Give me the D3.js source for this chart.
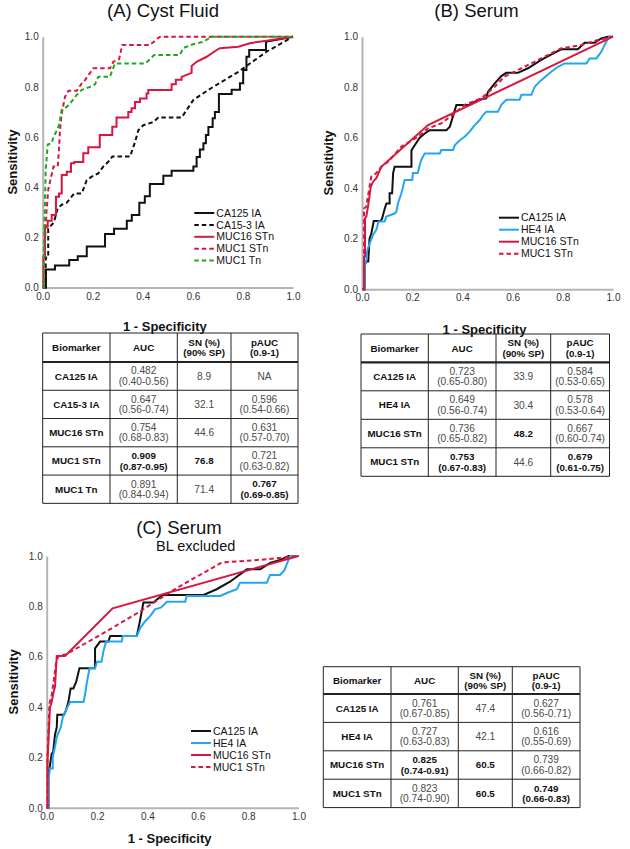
<!DOCTYPE html>
<html><head><meta charset="utf-8">
<script src="https://cdn.jsdelivr.net/npm/d3@7/dist/d3.min.js"></script>
<style>
html,body{margin:0;padding:0;background:#fff;}
svg{display:block;font-family:"Liberation Sans",Arial,sans-serif;}
</style></head>
<body><svg id="c" width="630" height="849"></svg>
<script>
// ---------------- DATA ----------------
const axisTicks = [0, 0.2, 0.4, 0.6, 0.8, 1.0];

// (A) Cyst fluid ROC points [1-specificity, sensitivity]
const cystCA125 = [[0,0],[0.013,0],[0.013,0.072],[0.049,0.072],[0.049,0.088],[0.106,0.088],[0.106,0.11],[0.14,0.11],[0.14,0.125],[0.176,0.125],[0.176,0.163],[0.249,0.163],[0.249,0.213],[0.285,0.213],[0.285,0.234],[0.336,0.234],[0.336,0.266],[0.356,0.266],[0.356,0.289],[0.386,0.289],[0.386,0.338],[0.408,0.338],[0.408,0.364],[0.428,0.364],[0.428,0.413],[0.482,0.413],[0.482,0.446],[0.515,0.446],[0.515,0.466],[0.602,0.466],[0.602,0.482],[0.615,0.482],[0.615,0.52],[0.628,0.52],[0.628,0.55],[0.642,0.55],[0.642,0.575],[0.652,0.575],[0.652,0.608],[0.662,0.608],[0.662,0.64],[0.679,0.64],[0.679,0.675],[0.688,0.675],[0.688,0.70],[0.704,0.70],[0.704,0.772],[0.755,0.772],[0.755,0.788],[0.788,0.788],[0.788,0.814],[0.801,0.814],[0.801,0.867],[0.814,0.867],[0.814,0.92],[0.825,0.92],[0.825,0.947],[0.892,0.947],[0.892,0.98],[1,1]];
const cystCA153 = [[0,0],[0.012,0],[0.012,0.12],[0.022,0.12],[0.022,0.235],[0.045,0.26],[0.06,0.316],[0.076,0.33],[0.096,0.338],[0.126,0.375],[0.156,0.375],[0.176,0.428],[0.196,0.442],[0.222,0.455],[0.242,0.482],[0.269,0.508],[0.278,0.522],[0.349,0.522],[0.369,0.58],[0.382,0.627],[0.402,0.647],[0.442,0.66],[0.462,0.678],[0.555,0.678],[0.602,0.748],[0.662,0.788],[0.715,0.82],[0.782,0.86],[0.828,0.893],[0.894,0.94],[1,1]];
const cystMUC16STn = [[0,0],[0.003,0],[0.003,0.123],[0.009,0.123],[0.009,0.242],[0.02,0.242],[0.02,0.266],[0.036,0.266],[0.036,0.289],[0.053,0.289],[0.053,0.362],[0.065,0.362],[0.065,0.375],[0.076,0.375],[0.076,0.449],[0.096,0.449],[0.096,0.462],[0.113,0.462],[0.113,0.495],[0.126,0.495],[0.126,0.5],[0.162,0.5],[0.162,0.535],[0.182,0.535],[0.182,0.559],[0.228,0.559],[0.228,0.608],[0.278,0.608],[0.278,0.641],[0.295,0.641],[0.295,0.678],[0.342,0.678],[0.342,0.70],[0.355,0.70],[0.355,0.715],[0.369,0.715],[0.369,0.74],[0.389,0.74],[0.389,0.754],[0.415,0.754],[0.415,0.774],[0.422,0.774],[0.422,0.787],[0.515,0.787],[0.515,0.81],[0.532,0.81],[0.532,0.828],[0.555,0.828],[0.555,0.84],[0.595,0.856],[0.595,0.883],[0.615,0.90],[0.655,0.92],[0.695,0.947],[0.708,0.954],[0.782,0.96],[0.828,0.974],[0.894,0.984],[1,1]];
const cystMUC1STn = [[0,0],[0.005,0],[0.005,0.1],[0.015,0.3],[0.022,0.389],[0.04,0.469],[0.043,0.482],[0.06,0.482],[0.065,0.548],[0.069,0.628],[0.076,0.694],[0.089,0.76],[0.103,0.784],[0.136,0.784],[0.156,0.814],[0.169,0.827],[0.202,0.874],[0.269,0.874],[0.282,0.9],[0.305,0.91],[0.318,0.967],[0.428,0.967],[0.469,1.0],[1,1]];
const cystMUC1Tn = [[0,0],[0.005,0],[0.005,0.16],[0.012,0.469],[0.02,0.57],[0.036,0.575],[0.043,0.6],[0.056,0.625],[0.065,0.647],[0.076,0.708],[0.096,0.72],[0.116,0.742],[0.136,0.768],[0.156,0.788],[0.189,0.8],[0.209,0.81],[0.222,0.84],[0.269,0.84],[0.278,0.867],[0.289,0.893],[0.409,0.893],[0.428,0.91],[0.445,0.927],[0.548,0.927],[0.562,0.955],[0.60,0.97],[0.642,0.98],[0.675,1.0],[1,1]];

// (B) Serum
const serumCA125 = [[0,0],[0.011,0],[0.011,0.096],[0.017,0.11],[0.025,0.11],[0.03,0.2],[0.037,0.22],[0.047,0.27],[0.074,0.27],[0.08,0.28],[0.088,0.31],[0.097,0.34],[0.11,0.34],[0.11,0.38],[0.12,0.38],[0.124,0.46],[0.13,0.485],[0.197,0.485],[0.197,0.55],[0.21,0.57],[0.23,0.6],[0.25,0.617],[0.27,0.63],[0.336,0.63],[0.35,0.644],[0.376,0.73],[0.429,0.73],[0.462,0.75],[0.495,0.756],[0.502,0.782],[0.529,0.815],[0.555,0.844],[0.575,0.857],[0.621,0.857],[0.661,0.875],[0.714,0.908],[0.768,0.937],[0.794,0.95],[0.86,0.95],[0.887,0.976],[0.927,0.976],[0.953,0.993],[0.98,1.0],[1,1]];
const serumHE4 = [[0,0],[0.011,0],[0.011,0.09],[0.017,0.116],[0.021,0.155],[0.03,0.18],[0.044,0.215],[0.057,0.235],[0.066,0.268],[0.09,0.268],[0.097,0.288],[0.13,0.3],[0.137,0.307],[0.143,0.34],[0.157,0.38],[0.17,0.433],[0.2,0.433],[0.203,0.46],[0.222,0.46],[0.23,0.492],[0.236,0.512],[0.25,0.538],[0.31,0.538],[0.316,0.551],[0.363,0.551],[0.37,0.571],[0.39,0.59],[0.409,0.604],[0.429,0.624],[0.449,0.65],[0.469,0.67],[0.482,0.69],[0.495,0.703],[0.542,0.703],[0.555,0.73],[0.575,0.75],[0.628,0.75],[0.635,0.77],[0.675,0.77],[0.688,0.802],[0.714,0.828],[0.754,0.861],[0.781,0.881],[0.807,0.894],[0.894,0.894],[0.907,0.914],[0.934,0.914],[0.953,0.94],[0.973,0.98],[0.985,1],[1,1]];
const serumMUC16STn = [[0,0],[0.008,0],[0.008,0.13],[0.012,0.13],[0.012,0.28],[0.017,0.288],[0.024,0.327],[0.035,0.406],[0.044,0.426],[0.057,0.44],[0.077,0.485],[0.263,0.65],[1,1]];
const serumMUC1STn = [[0,0],[0.008,0],[0.008,0.32],[0.017,0.327],[0.03,0.406],[0.037,0.446],[0.057,0.46],[0.077,0.485],[0.104,0.505],[0.157,0.565],[0.223,0.604],[0.263,0.637],[0.316,0.657],[0.369,0.697],[0.409,0.73],[0.475,0.756],[0.529,0.802],[0.568,0.842],[0.635,0.875],[0.714,0.914],[0.794,0.954],[0.874,0.967],[0.94,0.987],[1,1]];

// (C) Serum, BL excluded
const blCA125 = [[0,0],[0.007,0],[0.007,0.13],[0.02,0.216],[0.025,0.216],[0.033,0.29],[0.04,0.32],[0.042,0.37],[0.069,0.37],[0.077,0.388],[0.086,0.42],[0.095,0.474],[0.106,0.474],[0.117,0.5],[0.13,0.554],[0.192,0.554],[0.192,0.633],[0.212,0.66],[0.245,0.66],[0.252,0.682],[0.358,0.682],[0.371,0.746],[0.384,0.815],[0.424,0.815],[0.444,0.832],[0.461,0.845],[0.623,0.845],[0.675,0.868],[0.728,0.898],[0.795,0.947],[0.848,0.947],[0.887,0.973],[0.927,0.984],[0.96,1],[1,1]];
const blHE4 = [[0,0],[0.007,0],[0.007,0.11],[0.013,0.156],[0.024,0.156],[0.024,0.2],[0.033,0.242],[0.04,0.282],[0.056,0.32],[0.064,0.36],[0.08,0.395],[0.093,0.42],[0.146,0.42],[0.152,0.448],[0.159,0.494],[0.17,0.554],[0.192,0.554],[0.2,0.58],[0.218,0.58],[0.225,0.62],[0.236,0.66],[0.298,0.66],[0.302,0.682],[0.358,0.682],[0.371,0.713],[0.39,0.74],[0.41,0.76],[0.43,0.788],[0.455,0.796],[0.477,0.818],[0.55,0.818],[0.556,0.841],[0.689,0.841],[0.72,0.855],[0.755,0.868],[0.768,0.894],[0.874,0.894],[0.887,0.925],[0.927,0.925],[0.944,0.944],[0.96,0.984],[0.967,1],[1,1]];
const blMUC16STn = [[0,0],[0.003,0],[0.003,0.18],[0.013,0.4],[0.02,0.42],[0.026,0.454],[0.033,0.48],[0.04,0.603],[0.073,0.603],[0.262,0.792],[1,1]];
const blMUC1STn = [[0,0],[0.003,0],[0.003,0.2],[0.011,0.415],[0.02,0.448],[0.03,0.52],[0.037,0.573],[0.046,0.603],[0.079,0.61],[0.258,0.713],[0.371,0.78],[0.503,0.865],[0.695,0.974],[0.874,0.987],[1,1]];

// Tables
const tableHeader = [["Biomarker"],["AUC"],["SN (%)","(90% SP)"],["pAUC","(0.9-1)"]];

const cystMarkers = ["CA125 IA","CA15-3 IA","MUC16 STn","MUC1 STn","MUC1 Tn"];
const cystAUC     = ["0.482","0.647","0.754","0.909","0.891"];
const cystAUCci   = ["(0.40-0.56)","(0.56-0.74)","(0.68-0.83)","(0.87-0.95)","(0.84-0.94)"];
const cystSN      = ["8.9","32.1","44.6","76.8","71.4"];
const cystPAUC    = ["NA","0.596","0.631","0.721","0.767"];
const cystPAUCci  = ["","(0.54-0.66)","(0.57-0.70)","(0.63-0.82)","(0.69-0.85)"];
const cystBest    = {auc:[3], sn:[3], pauc:[4]};

const serumMarkers = ["CA125 IA","HE4 IA","MUC16 STn","MUC1 STn"];
const serumAUC     = ["0.723","0.649","0.736","0.753"];
const serumAUCci   = ["(0.65-0.80)","(0.56-0.74)","(0.65-0.82)","(0.67-0.83)"];
const serumSN      = ["33.9","30.4","48.2","44.6"];
const serumPAUC    = ["0.584","0.578","0.667","0.679"];
const serumPAUCci  = ["(0.53-0.65)","(0.53-0.64)","(0.60-0.74)","(0.61-0.75)"];
const serumBest    = {auc:[3], sn:[2], pauc:[3]};

const blMarkers = ["CA125 IA","HE4 IA","MUC16 STn","MUC1 STn"];
const blAUC     = ["0.761","0.727","0.825","0.823"];
const blAUCci   = ["(0.67-0.85)","(0.63-0.83)","(0.74-0.91)","(0.74-0.90)"];
const blSN      = ["47.4","42.1","60.5","60.5"];
const blPAUC    = ["0.627","0.616","0.739","0.749"];
const blPAUCci  = ["(0.56-0.71)","(0.55-0.69)","(0.66-0.82)","(0.66-0.83)"];
const blBest    = {auc:[2], sn:[2,3], pauc:[3]};

// ---------------- STYLE ----------------
const RED = "#d8173f", GREEN = "#1fa81f", BLUE = "#22a6f2", BLACK = "#111";
const FONT = '"Liberation Sans", Arial, sans-serif';

const svg = d3.select("#c");
svg.append("rect").attr("width",630).attr("height",849).attr("fill","#fff");

function panel(cfg){
  const x = d3.scaleLinear().domain([0,1]).range(cfg.xr);
  const y = d3.scaleLinear().domain([0,1]).range(cfg.yr);
  const g = svg.append("g");

  const xa = g.append("g").attr("transform",`translate(0,${cfg.yr[0]})`)
    .call(d3.axisBottom(x).tickValues(axisTicks).tickFormat(d3.format(".1f")).tickSize(0).tickPadding(5));
  const ya = g.append("g").attr("transform",`translate(${cfg.xr[0]},0)`)
    .call(d3.axisLeft(y).tickValues(axisTicks).tickFormat(d3.format(".1f")).tickSize(0).tickPadding(4));
  [xa,ya].forEach(a=>{
    a.select(".domain").attr("stroke","#b4b4b4").attr("stroke-width",2);
    a.selectAll("text").attr("font-size",10).attr("fill","#333").attr("font-family",FONT);
  });

  const line = d3.line().x(d=>x(d[0])).y(d=>y(d[1]));
  cfg.series.forEach(s=>{
    g.append("path").attr("d",line(s.data)).attr("fill","none")
      .attr("stroke",s.color).attr("stroke-width",2)
      .attr("stroke-dasharray",s.dash?"4.5,3":null)
      .attr("stroke-linejoin","miter");
  });

  // legend
  cfg.series.forEach((s,i)=>{
    const ly = cfg.leg[1] + i*cfg.legStep;
    g.append("line").attr("x1",cfg.leg[0]).attr("x2",cfg.leg[0]+20).attr("y1",ly).attr("y2",ly)
      .attr("stroke",s.color).attr("stroke-width",2).attr("stroke-dasharray",s.dash?"4.5,3":null);
    g.append("text").attr("x",cfg.leg[0]+22).attr("y",ly).attr("dy","0.35em")
      .attr("font-size",10.5).attr("fill","#111").text(s.name);
  });

  // titles
  g.append("text").attr("x",cfg.title[0]).attr("y",cfg.title[1]).attr("text-anchor","middle")
    .attr("font-size",18.5).attr("fill","#111").text(cfg.title[2]);
  if(cfg.sub) g.append("text").attr("x",cfg.sub[0]).attr("y",cfg.sub[1]).attr("text-anchor","middle")
    .attr("font-size",14.5).attr("fill","#111").text(cfg.sub[2]);
  g.append("text").attr("x",(cfg.xr[0]+cfg.xr[1])/2 - 3).attr("y",cfg.xTitleY).attr("text-anchor","middle")
    .attr("font-size",13).attr("font-weight","bold").attr("fill","#111").text("1 - Specificity");
  g.append("text").attr("transform",`translate(${cfg.yTitleX},${(cfg.yr[0]+cfg.yr[1])/2}) rotate(-90)`)
    .attr("text-anchor","middle").attr("font-size",13).attr("font-weight","bold").attr("fill","#111").text("Sensitivity");
}

function table(cfg){
  const g = svg.append("g");
  const cols = cfg.cols; // absolute x boundaries
  const nRows = cfg.markers.length;
  const rowsY = [cfg.top, cfg.top+cfg.hh];
  for(let i=1;i<=nRows;i++) rowsY.push(cfg.top+cfg.hh+i*cfg.rh);
  const left = cols[0], right = cols[cols.length-1], bottom = rowsY[rowsY.length-1];
  // horizontal lines
  rowsY.forEach((yy,i)=>{
    g.append("line").attr("x1",left).attr("x2",right).attr("y1",yy).attr("y2",yy)
      .attr("stroke","#222").attr("stroke-width", i===1?2.2:1);
  });
  cols.forEach(xx=>{
    g.append("line").attr("x1",xx).attr("x2",xx).attr("y1",cfg.top).attr("y2",bottom)
      .attr("stroke","#222").attr("stroke-width",1);
  });
  const cx = i => (cols[i]+cols[i+1])/2;
  function cell(ci, yc, lines, bold, gray){
    const n = lines.filter(l=>l!=="").length;
    const ls = lines.filter(l=>l!=="");
    ls.forEach((t,k)=>{
      g.append("text").attr("x",cx(ci)).attr("y",yc + (k-(n-1)/2)*10.5).attr("dy","0.35em")
        .attr("text-anchor","middle").attr("font-size",bold?9.8:10.2)
        .attr("font-weight",bold?"bold":"normal").attr("fill",gray?"#4a4a4a":"#111").text(t);
    });
  }
  const hy = cfg.top + cfg.hh/2;
  tableHeader.forEach((h,i)=>cell(i,hy,h,true,false));
  cfg.markers.forEach((m,r)=>{
    const yc = cfg.top+cfg.hh+(r+0.5)*cfg.rh;
    cell(0,yc,[m],true,false);
    const bA = cfg.best.auc.includes(r), bS = cfg.best.sn.includes(r), bP = cfg.best.pauc.includes(r);
    cell(1,yc,[cfg.auc[r],cfg.aucci[r]],bA,!bA);
    cell(2,yc,[cfg.sn[r]],bS,!bS);
    cell(3,yc,[cfg.pauc[r],cfg.paucci[r]],bP,!bP);
  });
}

panel({
  xr:[42.7,293], yr:[287.5,36.7],
  title:[163,16.5,"(A) Cyst Fluid"], xTitleY:331, yTitleX:16.5,
  leg:[194.3,213], legStep:11.9,
  series:[
    {name:"CA125 IA", data:cystCA125, color:BLACK, dash:false},
    {name:"CA15-3 IA", data:cystCA153, color:BLACK, dash:true},
    {name:"MUC16 STn", data:cystMUC16STn, color:RED, dash:false},
    {name:"MUC1 STn", data:cystMUC1STn, color:RED, dash:true},
    {name:"MUC1 Tn", data:cystMUC1Tn, color:GREEN, dash:true}
  ]
});
panel({
  xr:[362,613], yr:[289.3,36.7],
  title:[476.5,16.5,"(B) Serum"], xTitleY:334, yTitleX:333,
  leg:[499,217.7], legStep:12,
  series:[
    {name:"CA125 IA", data:serumCA125, color:BLACK, dash:false},
    {name:"HE4 IA", data:serumHE4, color:BLUE, dash:false},
    {name:"MUC16 STn", data:serumMUC16STn, color:RED, dash:false},
    {name:"MUC1 STn", data:serumMUC1STn, color:RED, dash:true}
  ]
});
panel({
  xr:[46.7,298.5], yr:[807.8,556],
  title:[179,534,"(C) Serum"], sub:[195.7,550.5,"BL excluded"], xTitleY:843, yTitleX:17.5,
  leg:[191,731], legStep:12,
  series:[
    {name:"CA125 IA", data:blCA125, color:BLACK, dash:false},
    {name:"HE4 IA", data:blHE4, color:BLUE, dash:false},
    {name:"MUC16 STn", data:blMUC16STn, color:RED, dash:false},
    {name:"MUC1 STn", data:blMUC1STn, color:RED, dash:true}
  ]
});

table({cols:[42.7,110,177.3,231,298], top:333, hh:29, rh:28.27,
  markers:cystMarkers, auc:cystAUC, aucci:cystAUCci, sn:cystSN, pauc:cystPAUC, paucci:cystPAUCci, best:cystBest});
table({cols:[361,428.3,496,550.7,609.5], top:334, hh:28.3, rh:28.5,
  markers:serumMarkers, auc:serumAUC, aucci:serumAUCci, sn:serumSN, pauc:serumPAUC, paucci:serumPAUCci, best:serumBest});
table({cols:[323.3,391,458.3,512.3,580], top:666.7, hh:27.3, rh:28.4,
  markers:blMarkers, auc:blAUC, aucci:blAUCci, sn:blSN, pauc:blPAUC, paucci:blPAUCci, best:blBest});
</script>
</body></html>
